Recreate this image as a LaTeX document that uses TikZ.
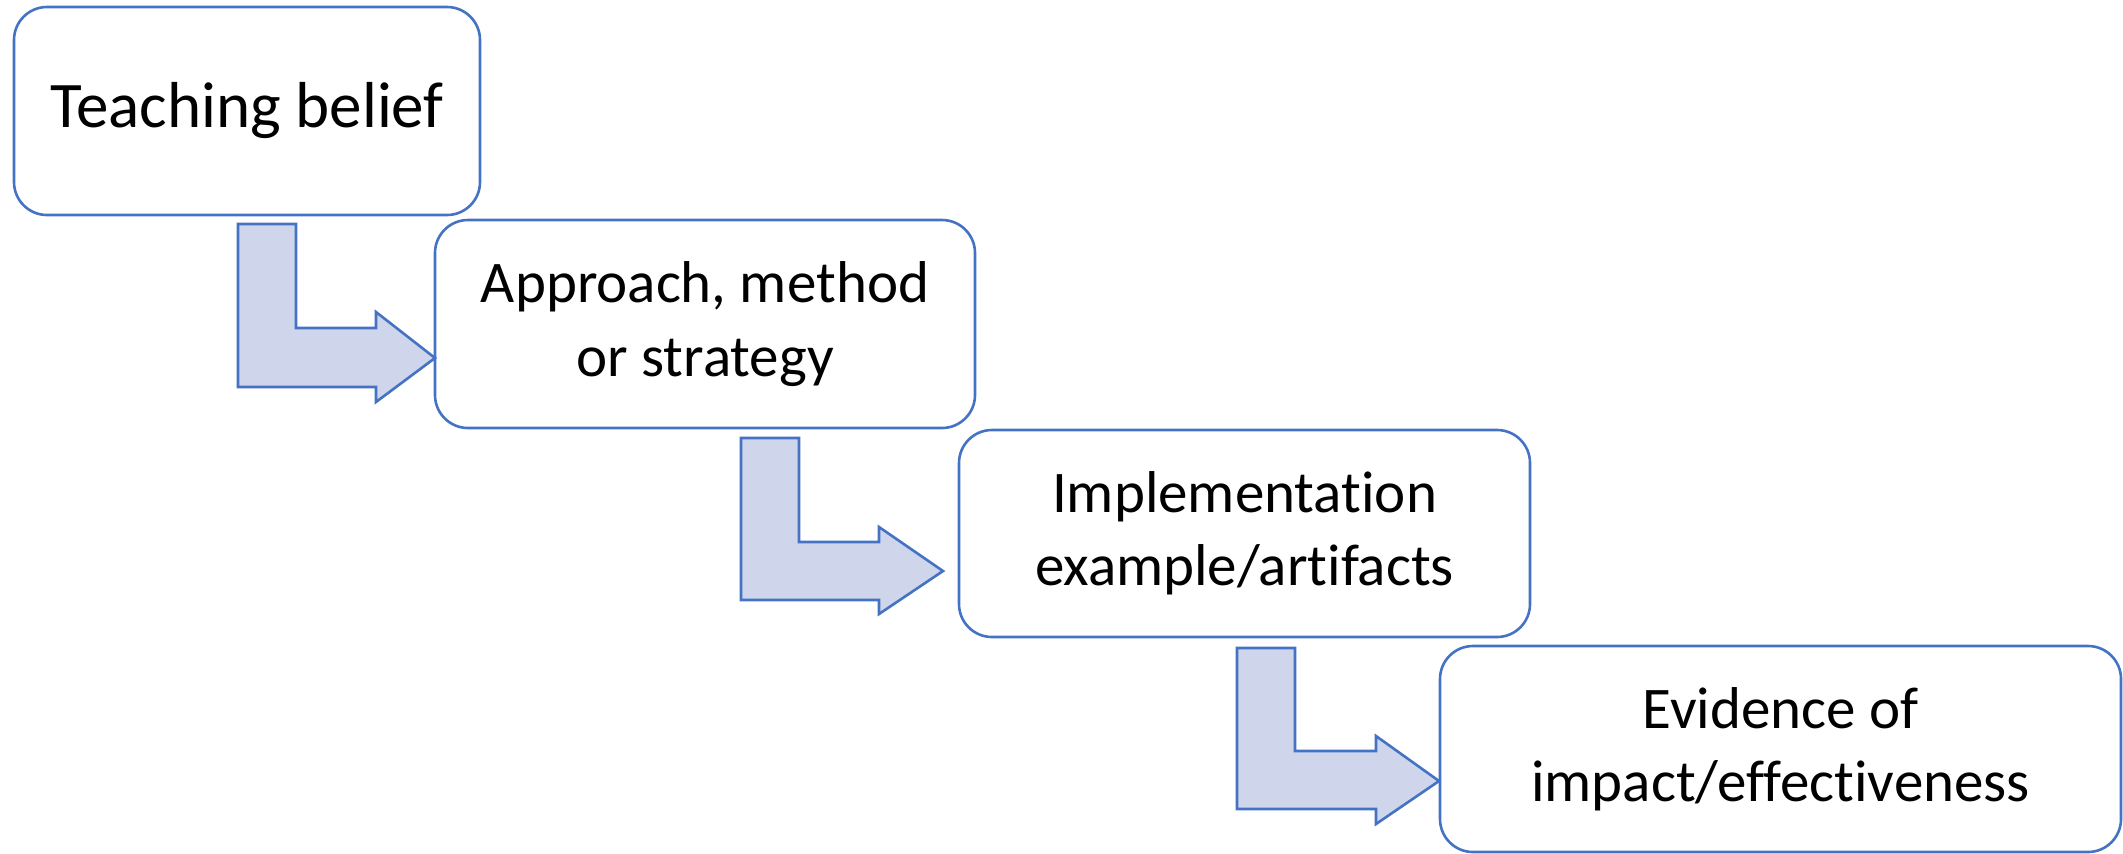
\documentclass[tikz,border=0pt]{standalone}
\usepackage{fontspec}
\setmainfont{Carlito}[Ligatures={NoCommon}]
\definecolor{edge}{HTML}{4472C4}
\definecolor{arrowfill}{HTML}{CFD5EA}
\tikzset{
  stepbox/.style={draw=edge, line width=1.3pt, rounded corners=16.5pt, fill=white,
    align=center, inner sep=0pt, font=\fontsize{29.5}{36.6}\selectfont},
  bentarrow/.style={draw=edge, fill=arrowfill, line width=1.3pt, line join=miter}
}
\begin{document}
\begin{tikzpicture}[x=0.5pt,y=-0.5pt]
\useasboundingbox (0,0) rectangle (2123,853);
% boxes
\node[stepbox, minimum width=233pt, minimum height=104pt, font=\fontsize{32.5}{39}\selectfont] (b1) at (247,111) {Teaching belief};
\node[stepbox, minimum width=270pt, minimum height=104pt] (b2) at (705,324) {Approach, method\\or strategy};
\node[stepbox, minimum width=285.5pt, minimum height=103.5pt] (b3) at (1244.5,533.5) {Implementation\\example/artifacts};
\node[stepbox, minimum width=340.5pt, minimum height=103pt] (b4) at (1780.5,749) {Evidence of\\impact/effectiveness};
% bent arrows
\draw[bentarrow] (238,224) -- (296,224) -- (296,328) -- (376,328) -- (376,312) -- (435,358)
  -- (376,402) -- (376,387) -- (238,387) -- cycle;
\draw[bentarrow] (741,438) -- (799,438) -- (799,542) -- (879,542) -- (879,527) -- (943,571)
  -- (879,614) -- (879,600) -- (741,600) -- cycle;
\draw[bentarrow] (1237,648) -- (1295,648) -- (1295,751) -- (1376,751) -- (1376,736) -- (1439,781)
  -- (1376,824) -- (1376,809) -- (1237,809) -- cycle;
\end{tikzpicture}
\end{document}
